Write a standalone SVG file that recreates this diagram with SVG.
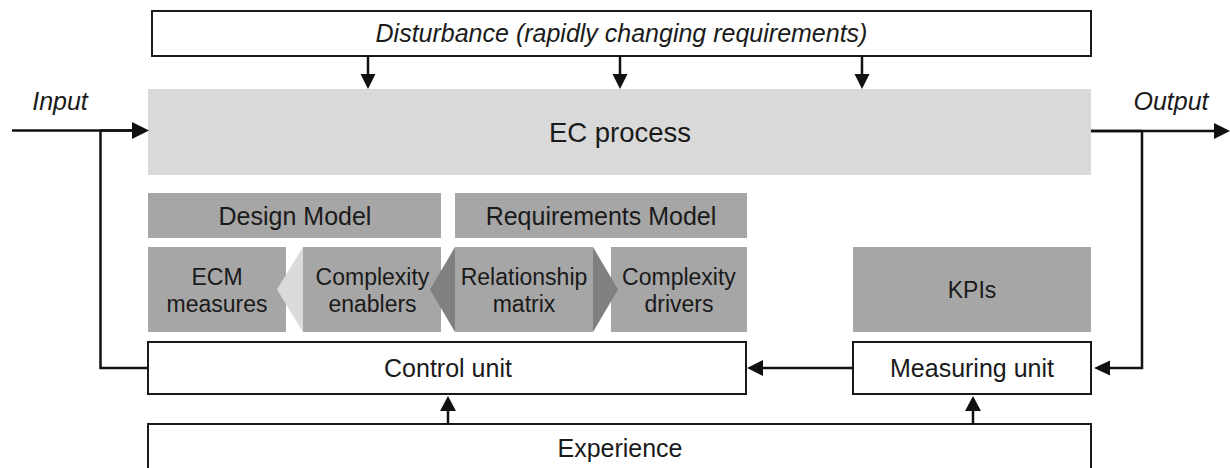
<svg xmlns="http://www.w3.org/2000/svg" width="1230" height="468" viewBox="0 0 1230 468">
<defs>
<style>
.t{font-family:"Liberation Sans",Arial,sans-serif;fill:#1a1a1a;text-anchor:middle}
.i{font-style:italic}
.box{fill:#ffffff;stroke:#1a1a1a;stroke-width:2}
.g{fill:#a6a6a6}
.ln{fill:none;stroke:#111;stroke-width:2.5}
.hd{fill:#111}
</style>
</defs>
<rect width="1230" height="468" fill="#ffffff"/>

<g id="disturbance">
<rect class="box" x="152" y="11" width="939" height="45"/>
<text class="t i" x="621.5" y="42" font-size="25">Disturbance (rapidly changing requirements)</text>
</g>

<g id="ec-process">
<rect x="148" y="89" width="943" height="86" fill="#d9d9d9"/>
<text class="t" x="620" y="142" font-size="27.5">EC process</text>
</g>

<g id="input-label"><text class="t i" x="60" y="110" font-size="25">Input</text></g>
<g id="output-label"><text class="t i" x="1171" y="110" font-size="25">Output</text></g>

<g id="design-model">
<rect class="g" x="148" y="193" width="293" height="45"/>
<text class="t" x="295" y="225" font-size="25">Design Model</text>
</g>
<g id="requirements-model">
<rect class="g" x="455" y="193" width="292" height="45"/>
<text class="t" x="601" y="225" font-size="25">Requirements Model</text>
</g>

<g id="ecm-measures">
<rect class="g" x="148" y="247" width="138" height="85"/>
<text class="t" x="217" y="285" font-size="23">ECM</text>
<text class="t" x="217" y="312" font-size="23">measures</text>
</g>
<g id="complexity-enablers">
<rect class="g" x="303" y="247" width="138" height="85"/>
<polygon points="303,247 277,289.5 303,332" fill="#dadada"/>
<text class="t" x="372.5" y="285" font-size="23">Complexity</text>
<text class="t" x="372.5" y="312" font-size="23">enablers</text>
</g>
<g id="complexity-drivers">
<rect class="g" x="611" y="247" width="136" height="85"/>
<text class="t" x="679" y="285" font-size="23">Complexity</text>
<text class="t" x="679" y="312" font-size="23">drivers</text>
</g>
<g id="relationship-matrix">
<rect class="g" x="455" y="247" width="138" height="85"/>
<polygon points="455,247 430,289.5 455,332" fill="#808080"/>
<polygon points="593,247 618,289.5 593,332" fill="#808080"/>
<text class="t" x="524" y="285" font-size="23">Relationship</text>
<text class="t" x="524" y="312" font-size="23">matrix</text>
</g>
<g id="kpis">
<rect class="g" x="853" y="247" width="238" height="85"/>
<text class="t" x="972" y="298" font-size="23">KPIs</text>
</g>

<g id="control-unit">
<rect class="box" x="148" y="342" width="598" height="52"/>
<text class="t" x="448" y="377" font-size="25">Control unit</text>
</g>
<g id="measuring-unit">
<rect class="box" x="853" y="342" width="238" height="52"/>
<text class="t" x="972" y="377" font-size="25">Measuring unit</text>
</g>
<g id="experience">
<rect class="box" x="148" y="424" width="943" height="60"/>
<text class="t" x="620" y="457" font-size="25">Experience</text>
</g>

<g id="connectors">
<!-- input -->
<line class="ln" x1="12" y1="130.5" x2="134" y2="130.5"/>
<line class="ln" x1="100" y1="130.5" x2="134" y2="130.5" stroke-width="4"/>
<polygon class="hd" points="149,130.5 132,122 132,139"/>
<!-- feedback from control unit to input -->
<polyline class="ln" points="148,368 100.5,368 100.5,130.5"/>
<!-- output -->
<line class="ln" x1="1091" y1="131" x2="1216" y2="131"/>
<line class="ln" x1="1091" y1="131" x2="1142" y2="131" stroke-width="4"/>
<polygon class="hd" points="1230,131 1214,123 1214,139"/>
<!-- output to measuring unit -->
<polyline class="ln" points="1142,131 1142,368 1108,368"/>
<polygon class="hd" points="1094,368 1110,360.5 1110,375.5"/>
<!-- measuring to control -->
<line class="ln" x1="853" y1="368" x2="762" y2="368"/>
<polygon class="hd" points="747,368 763,360 763,376"/>
<!-- disturbance arrows -->
<line class="ln" x1="368" y1="56" x2="368" y2="76"/>
<polygon class="hd" points="368,89 360.5,74 375.5,74"/>
<line class="ln" x1="620" y1="56" x2="620" y2="76"/>
<polygon class="hd" points="620,89 612.5,74 627.5,74"/>
<line class="ln" x1="862" y1="56" x2="862" y2="76"/>
<polygon class="hd" points="862,89 854.5,74 869.5,74"/>
<!-- experience arrows -->
<line class="ln" x1="448" y1="424" x2="448" y2="410"/>
<polygon class="hd" points="448,396 440,411 456,411"/>
<line class="ln" x1="973" y1="424" x2="973" y2="410"/>
<polygon class="hd" points="973,396 965,411 981,411"/>
</g>
</svg>
